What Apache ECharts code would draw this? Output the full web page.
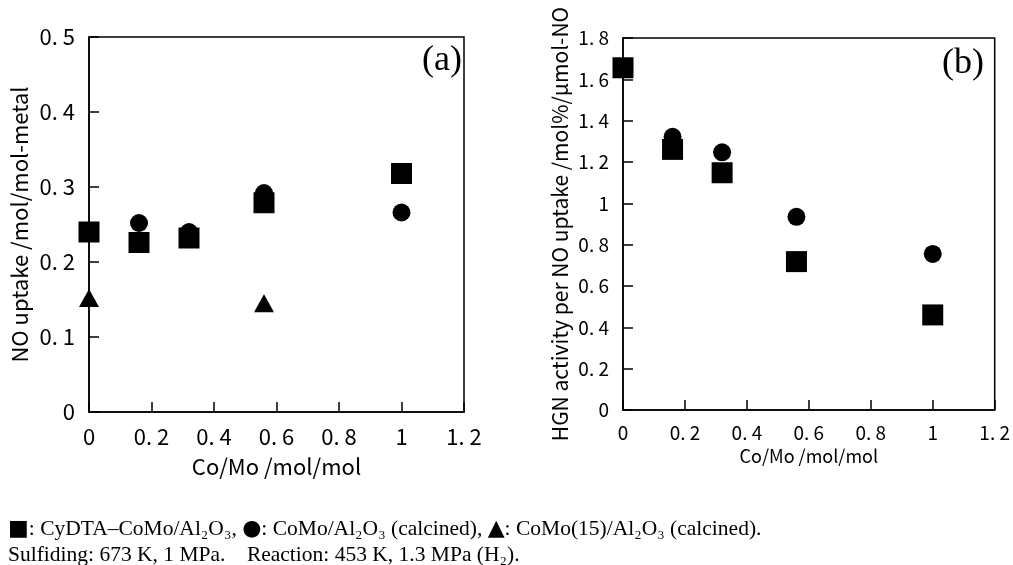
<!DOCTYPE html>
<html>
<head>
<meta charset="utf-8">
<script src="https://cdn.jsdelivr.net/npm/echarts@6/dist/echarts.min.js"></script>
<style>
  html, body { margin: 0; padding: 0; background: #fff; }
  #main { width: 1013px; height: 565px; }
</style>
</head>
<body>
<div id="main"></div>
<script>
// Co/Mo ratio of the catalysts
var coMoSquare = [0, 0.16, 0.32, 0.56, 1.0];
var coMoCircle = [0.16, 0.32, 0.56, 1.0];
var coMoTriangle = [0, 0.56];

// (a) NO uptake /mol/mol-metal
var uptakeSquare = [0.240, 0.226, 0.232, 0.279, 0.318];
var uptakeCircle = [0.252, 0.240, 0.292, 0.266];
var uptakeTriangle = [0.152, 0.145];

// (b) HGN activity per NO uptake
var hgnSquare = [1.656, 1.261, 1.148, 0.718, 0.460];
var hgnCircle = [1.322, 1.247, 0.935, 0.755];

function pairs(xs, ys) {
    var out = [];
    for (var i = 0; i < xs.length; i++) {
        out.push([xs[i], ys[i]]);
    }
    return out;
}

function tickText(v) {
    // spaced look of the original labels, e.g. "0. 2"
    return String(Math.round(v * 10) / 10).replace('.', '. ');
}

var axisFont = '"Noto Sans CJK JP", sans-serif';

function xAxisOf(grid, fontSize, margin, nameGap, nameSize) {
    return {
        gridIndex: grid,
        type: 'value',
        min: 0,
        max: 1.2,
        interval: 0.2,
        name: 'Co/Mo /mol/mol',
        nameLocation: 'middle',
        nameGap: nameGap,
        nameTextStyle: {color: '#000', fontFamily: axisFont, fontSize: nameSize},
        axisLine: {show: true, lineStyle: {color: '#000', width: 1.5}},
        axisTick: {show: true, inside: true, length: 10, lineStyle: {color: '#000', width: 1.5}},
        axisLabel: {color: '#000', fontFamily: axisFont, fontSize: fontSize, margin: margin, formatter: tickText},
        splitLine: {show: false}
    };
}

function dots(xi, symbol, size, data) {
    return {
        type: 'scatter',
        xAxisIndex: xi, yAxisIndex: xi,
        symbol: symbol, symbolSize: size,
        itemStyle: {color: '#000', opacity: 1},
        clip: false,
        data: data
    };
}

var option = {
    backgroundColor: '#fff',
    animation: false,
    grid: [{
        left: 89, top: 37, width: 375, height: 375,
        show: true, borderColor: '#000', borderWidth: 1.5
    }, {
        left: 623, top: 38, width: 372, height: 372,
        show: true, borderColor: '#000', borderWidth: 1.5
    }],
    xAxis: [
        xAxisOf(0, 22, 14, 44, 22),
        xAxisOf(1, 19, 13, 34, 18)
    ],
    yAxis: [{
        gridIndex: 0,
        type: 'value',
        min: 0,
        max: 0.5,
        interval: 0.1,
        name: 'NO uptake /mol/mol-metal',
        nameLocation: 'middle',
        nameGap: 58,
        nameTextStyle: {color: '#000', fontFamily: axisFont, fontSize: 22},
        axisLine: {show: true, lineStyle: {color: '#000', width: 1.5}},
        axisTick: {show: true, inside: true, length: 10, lineStyle: {color: '#000', width: 1.5}},
        axisLabel: {color: '#000', fontFamily: axisFont, fontSize: 22, margin: 14, formatter: tickText},
        splitLine: {show: false}
    }, {
        gridIndex: 1,
        type: 'value',
        min: 0,
        max: 1.8,
        interval: 0.2,
        name: 'HGN activity per NO uptake /mol%/\u03bcmol-NO',
        nameLocation: 'middle',
        nameGap: 52,
        nameTextStyle: {color: '#000', fontFamily: axisFont, fontSize: 21},
        axisLine: {show: true, lineStyle: {color: '#000', width: 1.5}},
        axisTick: {show: true, inside: true, length: 10, lineStyle: {color: '#000', width: 1.5}},
        axisLabel: {color: '#000', fontFamily: axisFont, fontSize: 19, margin: 14, formatter: tickText},
        splitLine: {show: false}
    }],
    series: [
        dots(0, 'circle', 18, pairs(coMoCircle, uptakeCircle)),
        dots(0, 'triangle', [20, 18], pairs(coMoTriangle, uptakeTriangle)),
        dots(0, 'rect', 21, pairs(coMoSquare, uptakeSquare)),
        dots(1, 'circle', 18, pairs(coMoCircle, hgnCircle)),
        dots(1, 'rect', 21, pairs(coMoSquare, hgnSquare))
    ],
    graphic: [{
        type: 'text', right: 1013 - 462, top: 43,
        style: {text: '(a)', fill: '#000', font: '36px "Liberation Serif", serif'}
    }, {
        type: 'text', right: 1013 - 984, top: 46,
        style: {text: '(b)', fill: '#000', font: '36px "Liberation Serif", serif'}
    }, {
        type: 'text', left: 8, top: 518,
        style: {
            text: '{s|\u25a0}: CyDTA\u2013CoMo/Al\u2082O\u2083, {s|\u25cf}: CoMo/Al\u2082O\u2083 (calcined), {s|\u25b2}: CoMo(15)/Al\u2082O\u2083 (calcined).',
            fill: '#000', font: '21.5px "Liberation Serif", serif',
            rich: {s: {fill: '#000', font: '22px "DejaVu Sans", sans-serif'}}
        }
    }, {
        type: 'text', left: 8, top: 544,
        style: {
            text: 'Sulfiding: 673 K, 1 MPa.    Reaction: 453 K, 1.3 MPa (H\u2082).',
            fill: '#000', font: '21.5px "Liberation Serif", serif'
        }
    }]
};

var myChart = echarts.init(document.getElementById('main'));
myChart.setOption(option);
</script>
</body>
</html>
